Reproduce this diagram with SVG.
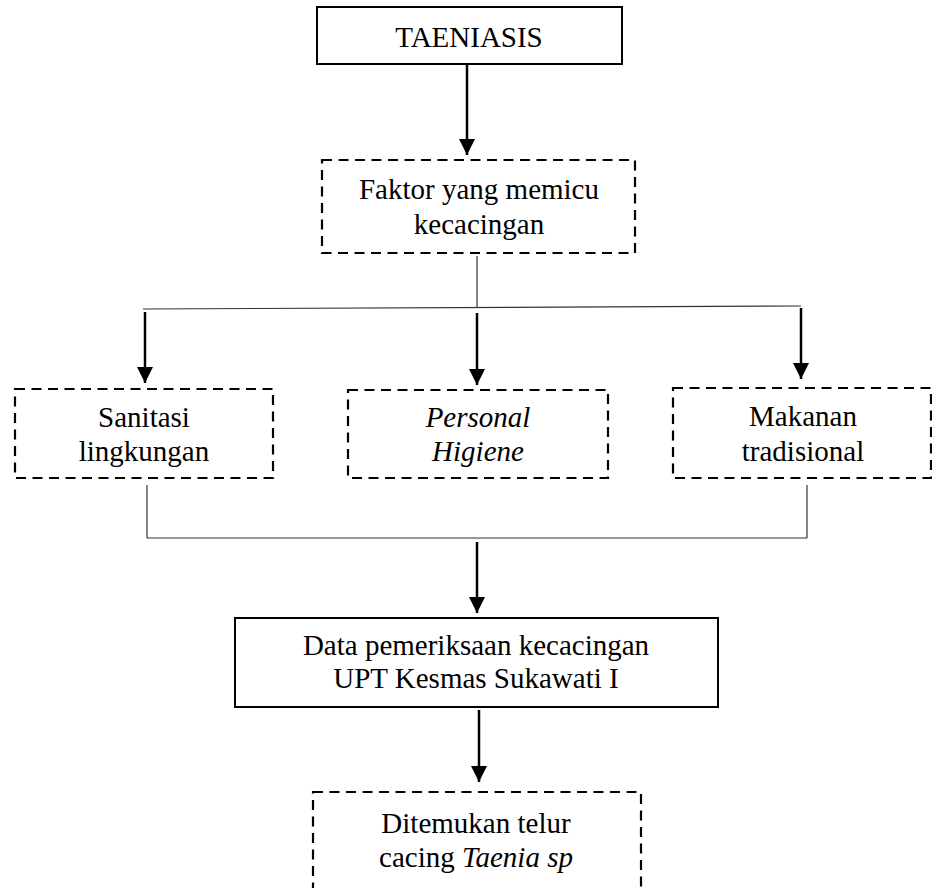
<svg xmlns="http://www.w3.org/2000/svg" width="932" height="888" viewBox="0 0 932 888">
<style>
.solid{fill:#fff;stroke:#000;stroke-width:2}
.dash{fill:#fff;stroke:#000;stroke-width:2.2;stroke-dasharray:10 6.5}
.t{font-family:"Liberation Serif","Times New Roman",serif;font-size:29px;fill:#000;text-anchor:middle}
.i{font-style:italic}
.thin{stroke:#333;stroke-width:1.2;fill:none}
.arr{stroke:#000;stroke-width:2.5;fill:none}
</style>
<defs>
<marker id="ah" markerUnits="userSpaceOnUse" markerWidth="16" markerHeight="16" refX="16" refY="8" orient="auto">
<path d="M0,0 L16,8 L0,16 z" fill="#000"/>
</marker>
</defs>
<rect width="932" height="888" fill="#fff"/>
<g id="connectors">
<line class="arr" x1="467" y1="64" x2="467" y2="155" marker-end="url(#ah)"/>
<line class="thin" x1="477" y1="256" x2="477" y2="308"/>
<line class="thin" x1="143" y1="309" x2="801" y2="306"/>
<line class="arr" x1="145" y1="312" x2="145" y2="383" marker-end="url(#ah)"/>
<line class="arr" x1="477" y1="313" x2="477" y2="385" marker-end="url(#ah)"/>
<line class="arr" x1="801" y1="308" x2="801" y2="379" marker-end="url(#ah)"/>
<line class="thin" x1="147" y1="485" x2="147" y2="538"/>
<line class="thin" x1="807" y1="485" x2="807" y2="538"/>
<line class="thin" x1="147" y1="538" x2="807" y2="538"/>
<line class="arr" x1="477" y1="542" x2="477" y2="613" marker-end="url(#ah)"/>
<line class="arr" x1="479" y1="710" x2="479" y2="782" marker-end="url(#ah)"/>
</g>
<g id="taeniasis">
<rect class="solid" x="317" y="7" width="305" height="57"/>
<text class="t" x="469" y="47">TAENIASIS</text>
</g>
<g id="faktor">
<rect class="dash" x="322" y="160" width="313" height="93"/>
<text class="t" x="479" y="199">Faktor yang memicu</text>
<text class="t" x="479" y="234">kecacingan</text>
</g>
<g id="sanitasi">
<rect class="dash" x="15" y="389" width="258" height="89"/>
<text class="t" x="144" y="427">Sanitasi</text>
<text class="t" x="144" y="461">lingkungan</text>
</g>
<g id="personal">
<rect class="dash" x="348" y="390" width="260" height="88"/>
<text class="t i" x="478" y="427">Personal</text>
<text class="t i" x="478" y="461">Higiene</text>
</g>
<g id="makanan">
<rect class="dash" x="673" y="388" width="258" height="90"/>
<text class="t" x="803" y="426">Makanan</text>
<text class="t" x="803" y="461">tradisional</text>
</g>
<g id="data">
<rect class="solid" x="235" y="618" width="483" height="89"/>
<text class="t" x="476" y="655">Data pemeriksaan kecacingan</text>
<text class="t" x="476" y="688">UPT Kesmas Sukawati I</text>
</g>
<g id="ditemukan">
<rect class="dash" x="313" y="792" width="328" height="110"/>
<text class="t" x="476" y="833">Ditemukan telur</text>
<text class="t" x="476" y="867">cacing <tspan class="i">Taenia sp</tspan></text>
</g>
</svg>
